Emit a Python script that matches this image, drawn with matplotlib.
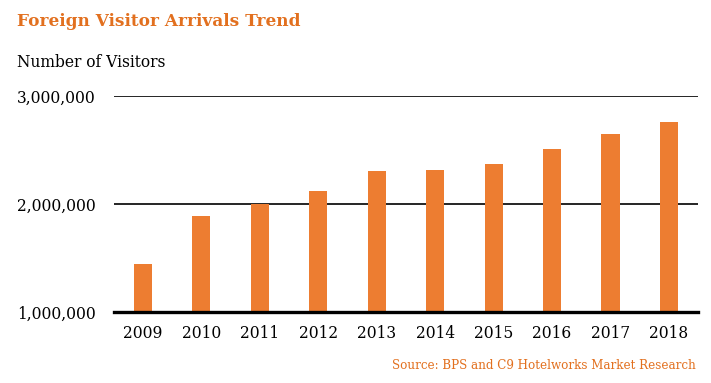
import matplotlib.pyplot as plt
import numpy as np

# Daten
years = ['2009', '2010', '2011', '2012', '2013', '2014', '2015', '2016', '2017', '2018']
visitors = [1443000, 1889000, 2000000, 2124000, 2309000, 2316000, 2371000, 2511000, 2650000, 2761000]
yticks = [1000000, 2000000, 3000000]

orange = '#ED7D31'
serif = ['DejaVu Serif']

fig = plt.figure(figsize=(7.11, 3.83), dpi=100)
ax = fig.add_axes([0.160, 0.185, 0.822, 0.564])

x = np.arange(len(years))
ax.bar(x, visitors, width=0.31, color=orange, zorder=3, bottom=0)
ax.set_xlim(-0.5, len(years) - 0.5)
ax.set_ylim(1000000, 3000000)

ax.set_yticks(yticks)
ax.set_yticklabels(['{:,}'.format(v) for v in yticks], family=serif, fontsize=11.2)
ax.set_xticks(x)
ax.set_xticklabels(years, family=serif, fontsize=11.2)
ax.tick_params(length=0, pad=9)
ax.tick_params(axis='y', pad=13)

ax.grid(axis='y', color='black', linewidth=1.2, zorder=1)
for s in ['top', 'right', 'left']:
    ax.spines[s].set_visible(False)
ax.spines['bottom'].set_linewidth(2.4)
ax.spines['bottom'].set_zorder(4)

fig.text(0.024, 0.945, 'Foreign Visitor Arrivals Trend', family=serif, fontsize=12.2,
         fontweight='bold', color='#E2701F', va='center')
fig.text(0.024, 0.838, 'Number of Visitors', family=serif, fontsize=11.2, va='center')
fig.text(0.978, 0.045, 'Source: BPS and C9 Hotelworks Market Research', family=serif,
         fontsize=8.6, color='#E2701F', ha='right', va='center')

plt.savefig('out.png', dpi=100)
